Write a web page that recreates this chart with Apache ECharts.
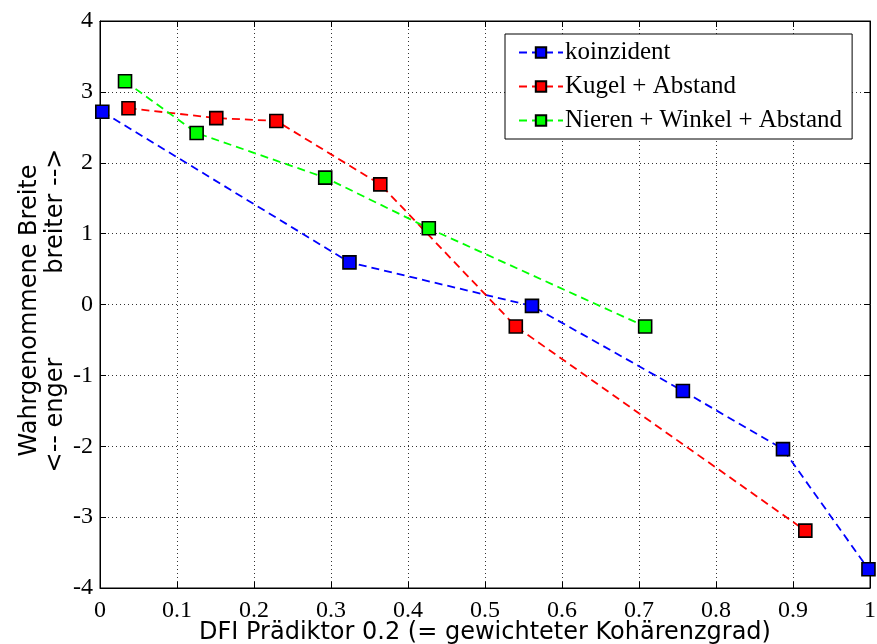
<!DOCTYPE html>
<html><head><meta charset="utf-8">
<script src="https://cdn.jsdelivr.net/npm/echarts@6/dist/echarts.min.js"></script>
<style>html,body{margin:0;padding:0;background:#fff}#c{width:877px;height:644px}</style>
</head><body><div id="c"></div>
<script>
const xTicks = [0,0.1,0.2,0.3,0.4,0.5,0.6,0.7,0.8,0.9,1];
const yTicks = [-4,-3,-2,-1,0,1,2,3,4];
const seriesNames = ['koinzident','Kugel + Abstand','Nieren + Winkel + Abstand'];
const koinzidentX = [0.003,0.324,0.561,0.757,0.887,0.998];
const koinzidentY = [2.72,0.595,-0.02,-1.22,-2.04,-3.735];
const kugelX = [0.037,0.151,0.229,0.364,0.540,0.916];
const kugelY = [2.77,2.63,2.59,1.695,-0.31,-3.19];
const nierenX = [0.0325,0.1255,0.2925,0.427,0.708];
const nierenY = [3.15,2.42,1.79,1.075,-0.31];
const colors = ['#0000ff','#ff0000','#00ff00'];

function pairs(xs, ys){ return xs.map((x,i)=>[x, ys[i]]); }
const allData = [pairs(koinzidentX,koinzidentY), pairs(kugelX,kugelY), pairs(nierenX,nierenY)];

const serif = 'Liberation Serif';
const sans = 'DejaVu Sans';
const chart = echarts.init(document.getElementById('c'));
const baseX = {type:'value', min:0, max:1, interval:0.1};
const baseY = {type:'value', min:-4, max:4, interval:1};
chart.setOption({
  animation:false,
  backgroundColor:'#fff',
  grid:{left:100, right:7, top:21, bottom:56, containLabel:false, outerBoundsMode:'none',
        show:true, borderColor:'#000', borderWidth:1},
  legend:{
    orient:'vertical', left:505, top:34, width:350,
    padding:[6,10,6,13], itemGap:9,
    backgroundColor:'#fff', borderColor:'#000', borderWidth:1,
    itemWidth:44, itemHeight:13,
    textStyle:{fontFamily:serif, fontSize:25, color:'#000', padding:[0,0,0,-3]},
    data:seriesNames
  },
  xAxis:[
    Object.assign({}, baseX, {
      position:'bottom',
      name:'DFI Prädiktor 0.2 (= gewichteter Kohärenzgrad)',
      nameLocation:'middle', nameGap:33, nameMoveOverlap:false,
      nameTextStyle:{fontFamily:sans, fontSize:24, color:'#000', verticalAlign:'top'},
      axisLine:{show:true, onZero:false, lineStyle:{color:'#000'}},
      axisTick:{show:true, inside:true, length:6, lineStyle:{color:'#000'}},
      axisLabel:{fontFamily:serif, fontSize:24, color:'#000', margin:11,
        formatter:v=>{const t=xTicks.find(a=>Math.abs(a-v)<1e-9); return t===undefined?'':String(t);}},
      splitLine:{show:true, lineStyle:{color:'#333', type:[1,3], width:1}}
    }),
    Object.assign({}, baseX, {
      position:'top',
      axisLine:{show:true, onZero:false, lineStyle:{color:'#000'}},
      axisTick:{show:true, inside:true, length:6, lineStyle:{color:'#000'}},
      axisLabel:{show:false}, splitLine:{show:false}
    })
  ],
  yAxis:[
    Object.assign({}, baseY, {
      position:'left',
      name:'Wahrgenommene Breite\n<-- enger           breiter -->',
      nameLocation:'middle', nameGap:31, nameRotate:90, nameMoveOverlap:false,
      nameTextStyle:{fontFamily:sans, fontSize:24, color:'#000', lineHeight:26, align:'center', padding:[0,12,0,0]},
      axisLine:{show:true, onZero:false, lineStyle:{color:'#000'}},
      axisTick:{show:true, inside:true, length:6, lineStyle:{color:'#000'}},
      axisLabel:{fontFamily:serif, fontSize:24, color:'#000', margin:7,
        formatter:v=>{const t=yTicks.find(a=>Math.abs(a-v)<1e-9); return t===undefined?'':String(t);}},
      splitLine:{show:true, lineStyle:{color:'#333', type:[1,3], width:1}}
    }),
    Object.assign({}, baseY, {
      position:'right',
      axisLine:{show:true, onZero:false, lineStyle:{color:'#000'}},
      axisTick:{show:true, inside:true, length:6, lineStyle:{color:'#000'}},
      axisLabel:{show:false}, splitLine:{show:false}
    })
  ],
  series: seriesNames.map((n,i)=>({
    name:n, type:'line', data:allData[i], xAxisIndex:0, yAxisIndex:0,
    symbol:'rect', symbolSize:13, showSymbol:true,
    lineStyle:{color:colors[i], width:1.8, type:[8,5]},
    itemStyle:{color:colors[i], borderColor:'#000', borderWidth:1.6},
    z: 3+i
  }))
});
</script></body></html>
